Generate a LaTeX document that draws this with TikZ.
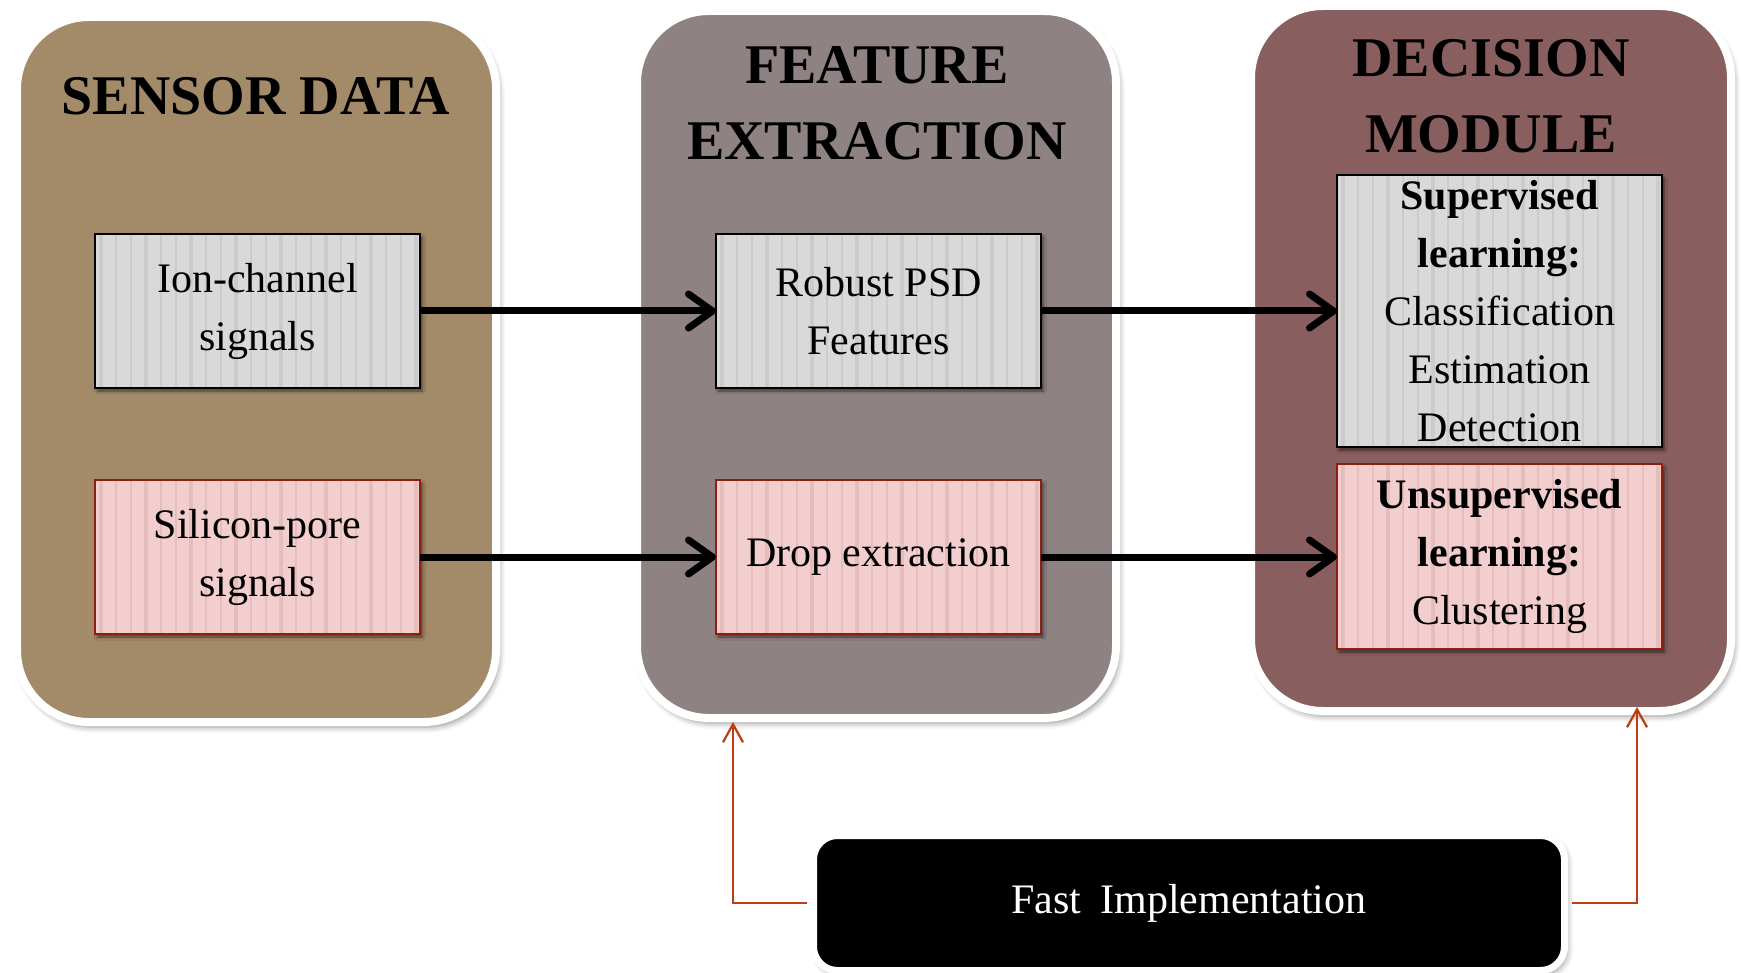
\documentclass[tikz,border=0pt]{standalone}
\usepackage{fontspec}
\setmainfont{Liberation Serif}
\usetikzlibrary{arrows.meta,shadows,shadows.blur}

\definecolor{sensorbg}{RGB}{163,139,105}
\definecolor{featurebg}{RGB}{143,130,131}
\definecolor{decisionbg}{RGB}{136,94,94}
\definecolor{greybox}{RGB}{217,217,217}
\definecolor{greystripe}{RGB}{203,203,203}
\definecolor{pinkbox}{RGB}{242,206,206}
\definecolor{pinkstripe}{RGB}{230,189,189}
\definecolor{pinkedge}{RGB}{140,32,16}
\definecolor{linkred}{RGB}{190,62,18}

\tikzset{
  panel/.style={draw=white, line width=4pt, rounded corners=36pt,
    inner sep=0pt, outer sep=0pt,
    minimum width=239.5pt, minimum height=352.5pt,
    blur shadow={shadow xshift=1.5pt, shadow yshift=-2.5pt,
      shadow blur radius=3pt, shadow opacity=45}},
  stripes/.style={path picture={
    \foreach \i [evaluate=\i as \w using {mod(\i,3)==0 ? 2.4 : 1.2}] in {0,...,21}
      \draw[#1, line width=\w pt]
        ([xshift=3pt+\i*7.5pt]path picture bounding box.north west) --
        ([xshift=3pt+\i*7.5pt]path picture bounding box.south west);}},
  procbox/.style={line width=1pt, inner sep=0pt, outer sep=0pt,
    minimum width=162.5pt, minimum height=77pt, align=center,
    font=\fontsize{21}{29}\selectfont,
    blur shadow={shadow xshift=1.2pt, shadow yshift=-1.5pt,
      shadow blur radius=1.5pt, shadow opacity=55}},
  greyproc/.style={procbox, fill=greybox, draw=black, stripes=greystripe},
  pinkproc/.style={procbox, fill=pinkbox, draw=pinkedge, stripes=pinkstripe},
  paneltitle/.style={font=\fontsize{28}{38}\selectfont\bfseries,
    align=center, inner sep=0pt},
  flow/.style={line width=3.5pt,
    -{Straight Barb[length=12pt, width=17pt, line cap=round, line join=round]}},
  link/.style={linkred, line width=1.1pt,
    -{Straight Barb[length=9pt, width=10pt]}, shorten <=1.75pt},
  fastbox/.style={fill=black, draw=white, line width=3.5pt,
    rounded corners=12pt, inner sep=0pt,
    minimum width=375.5pt, minimum height=67.5pt,
    text=white, font=\fontsize{21}{25}\selectfont,
    blur shadow={shadow xshift=1.5pt, shadow yshift=-2pt,
      shadow blur radius=3pt, shadow opacity=40}}
}

\begin{document}
\begin{tikzpicture}[x=0.5pt, y=-0.5pt]
  \useasboundingbox (0,0) rectangle (1741,973);

  % three stage panels
  \node[panel, fill=sensorbg]   (p1) at (256.5,369.5) {};
  \node[panel, fill=featurebg, minimum height=353.5pt] (p2) at (876.5,364.5) {};
  \node[panel, fill=decisionbg, minimum width=240pt] (p3) at (1491,358.5) {};

  % panel headings
  \node[paneltitle] (t1) at (256,96)  {SENSOR DATA};
  \node[paneltitle] (t2) at (877,103) {FEATURE\\EXTRACTION};
  \node[paneltitle] (t3) at (1491,96) {DECISION\\MODULE};

  % processing blocks
  \node[greyproc] (ion)    at (257.5,311) {Ion-channel\\signals};
  \node[pinkproc] (si)     at (257.5,557) {Silicon-pore\\signals};
  \node[greyproc] (psd)    at (878.5,311) {Robust PSD\\Features};
  \node[pinkproc] (drop)   at (878.5,557) {Drop extraction};
  \node[greyproc, minimum height=136pt] (sup) at (1499.5,311)
    {\textbf{Supervised}\\\textbf{learning:}\\Classification\\Estimation\\Detection};
  \node[pinkproc, minimum height=92.5pt] (unsup) at (1499.5,556.5)
    {\textbf{Unsupervised}\\\textbf{learning:}\\Clustering};

  % data flow
  \draw[flow] (ion) -- (psd);
  \draw[flow] (psd) -- (sup);
  \draw[flow] (si) -- (drop);
  \draw[flow] (drop) -- (unsup.west |- drop.east);

  % implementation block and its links
  \node[fastbox] (fast) at (1189,903) {Fast\hspace{0.45em}Implementation};
  \draw[link] (fast.west) -| ([xshift=-71.75pt, yshift=-2pt]p2.south);
  \draw[link] (fast.east) -| ([xshift=73pt, yshift=2pt]p3.south);
\end{tikzpicture}
\end{document}
